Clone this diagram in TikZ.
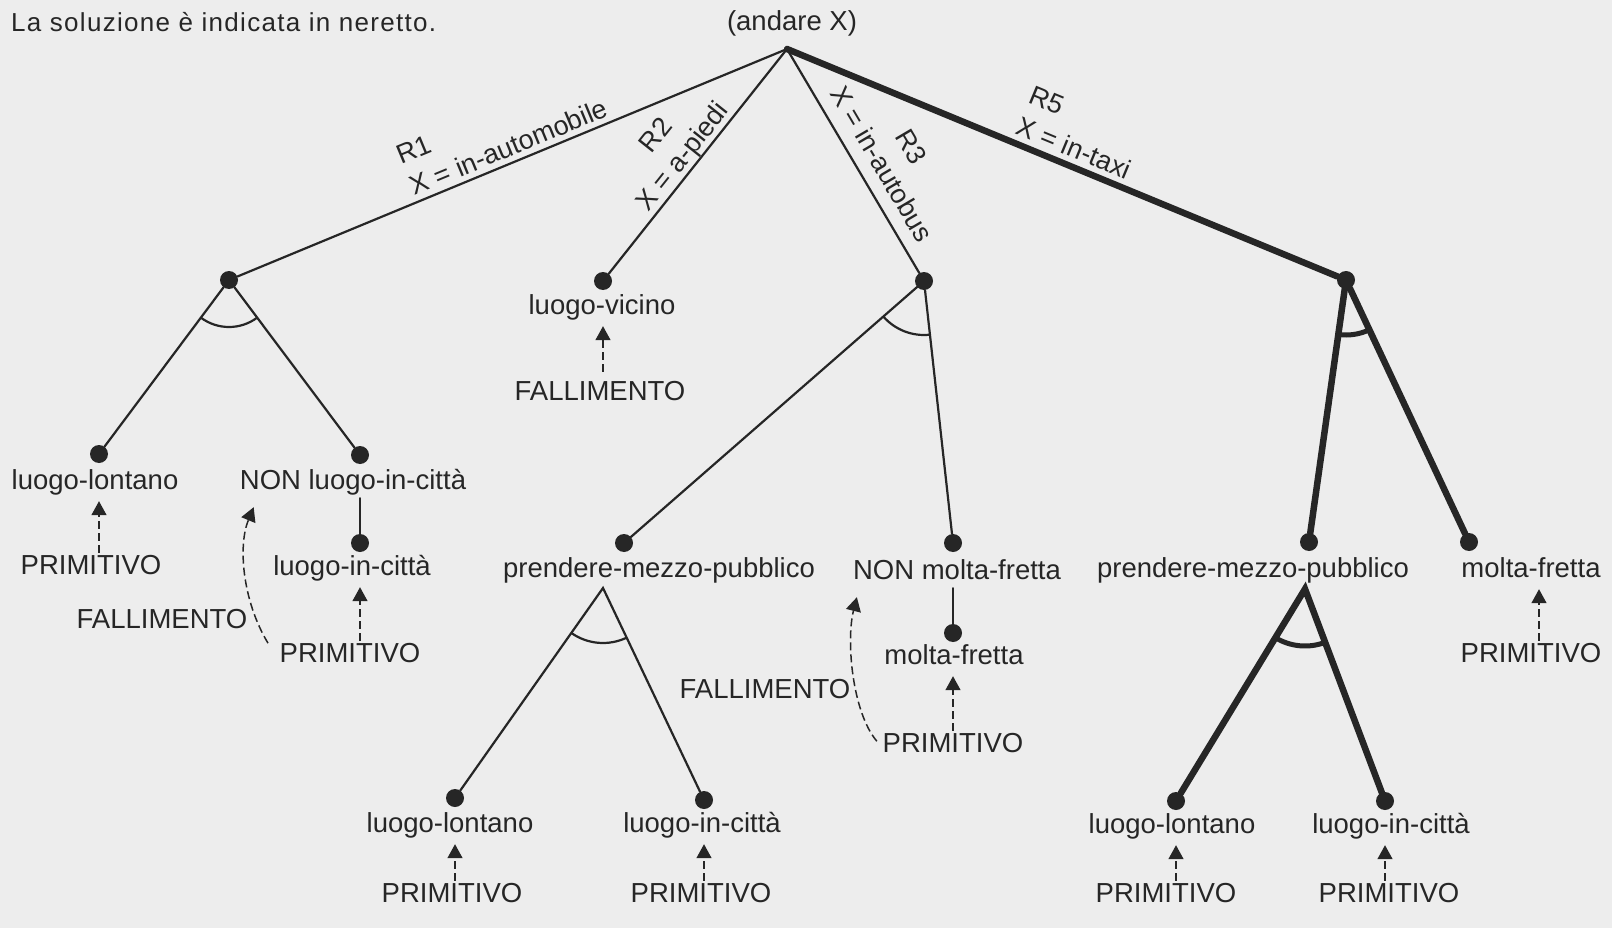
\documentclass[tikz,border=0pt]{standalone}
\usepackage{fontspec}
\setmainfont{Liberation Sans}
\usetikzlibrary{arrows.meta,calc}
\definecolor{paper}{RGB}{237,237,237}
\definecolor{ink}{RGB}{38,38,38}
\begin{document}
\begin{tikzpicture}[x=1pt,y=-1pt,
  lbl/.style={font=\fontsize{27.5}{33}\selectfont, text=ink, inner sep=0pt, text height=20pt, text depth=6pt},
  elbl/.style={font=\fontsize{27}{34}\selectfont, text=ink, inner sep=0pt},
  dot/.style={circle, fill=ink, minimum size=18pt, inner sep=0pt},
  thinln/.style={draw=ink, line width=2.2pt, line cap=round},
  boldln/.style={draw=ink, line width=6.5pt, line cap=round},
  andthin/.style={draw=ink, line width=2.2pt},
  andbold/.style={draw=ink, line width=5pt},
  tipA/.tip={Triangle[length=14pt,width=15pt]},
  darrow/.style={draw=ink, line width=1.5pt, dash pattern=on 8pt off 4pt, -tipA, shorten >=6pt, shorten <=1pt},
]
\fill[paper] (0,0) rectangle (1612,928);
\useasboundingbox (0,0) rectangle (1612,928);

\node[font=\fontsize{26}{30}\selectfont\addfontfeature{LetterSpace=5}, text=ink, anchor=west, inner sep=0pt] (title) at (11,22) {La soluzione è indicata in neretto.};

% root
\node[lbl] (rootl) at (792,24) {(andare X)};
\coordinate (root) at (787,49);
\node[dot] (A) at (229,280) {};
\node[dot] (B) at (603,281) {};
\node[dot] (C) at (924,281) {};
\node[dot] (D) at (1346,280) {};
\draw[thinln] (root) -- (A);
\draw[thinln] (root) -- (B);
\draw[thinln] (root) -- (C);
\draw[boldln] (root) -- (D);

% edge labels
\node[elbl, rotate=22.45, align=left] (r1) at (502.4,131.5) {R1\\X = in-automobile};
\node[elbl, rotate=51.5, align=center] (r2) at (670.8,147.1) {R2\\X = a-piedi};
\node[elbl, rotate=-59.5, align=center] (r3) at (896.5,155.5) {R3\\X = in-autobus};
\node[elbl, rotate=-22.5, align=left] (r5) at (1080.5,132.5) {R5\\X = in-taxi};

% R1 subtree
\node[dot] (A1) at (99,454) {};
\node[dot] (A2) at (360,455) {};
\draw[thinln] (A) -- (A1);
\draw[thinln] (A) -- (A2);
\draw[andthin] (A) ++(53.2:47) arc[start angle=53.2, end angle=126.8, radius=47];
\node[lbl] (A1l) at (95,482) {luogo-lontano};
\node[lbl] (A1p) at (91,567) {PRIMITIVO};
\draw[darrow] (A1p.north -| A1) -- (A1l.south -| A1);
\node[lbl] (A2l) at (353,482) {NON luogo-in-città};
\node[dot] (A2b) at (360,543) {};
\draw[thinln, shorten <=3pt] (A2l.south -| A2b) -- (A2b);
\node[lbl] (A2bl) at (352,568) {luogo-in-città};
\node[lbl] (A2p) at (350,655) {PRIMITIVO};
\draw[darrow] (A2p.north -| A2b) -- (A2bl.south -| A2b);
\node[lbl] (F1) at (162,621) {FALLIMENTO};
\draw[darrow, shorten >=0pt] ($(A2p.west)+(-11,-11)$) .. controls (242,600) and (238,545) .. ($(A2l.south west)+(14,12)$);

% R2 subtree
\node[lbl] (Bl) at (602,307) {luogo-vicino};
\node[lbl] (Bf) at (600,393) {FALLIMENTO};
\draw[darrow, shorten <=8pt] (Bf.north -| B) -- (Bl.south -| B);

% R3 subtree
\node[dot] (C1) at (624,543) {};
\node[dot] (C2) at (953,543) {};
\draw[thinln] (C) -- (C1);
\draw[thinln] (C) -- (C2);
\draw[andthin] (C) ++(83.7:54) arc[start angle=83.7, end angle=138.9, radius=54];
\node[lbl] (C1l) at (659,570) {prendere-mezzo-pubblico};
\node[lbl] (C2l) at (957,572) {NON molta-fretta};
\coordinate (Cx) at (603,588);
\node[dot] (C1a) at (455,798) {};
\node[dot] (C1b) at (704,800) {};
\draw[thinln] (C1a) -- (Cx) -- (C1b);
\draw[andthin] (Cx) ++(64.5:55) arc[start angle=64.5, end angle=125.2, radius=55];
\node[lbl] (C1al) at (450,825) {luogo-lontano};
\node[lbl] (C1bl) at (702,825) {luogo-in-città};
\node[lbl] (C1ap) at (452,895) {PRIMITIVO};
\node[lbl] (C1bp) at (701,895) {PRIMITIVO};
\draw[darrow] (C1ap.north -| C1a) -- (C1al.south -| C1a);
\draw[darrow] (C1bp.north -| C1b) -- (C1bl.south -| C1b);
\node[dot] (C2b) at (953,633) {};
\draw[thinln, shorten <=3pt] (C2l.south -| C2b) -- (C2b);
\node[lbl] (C2bl) at (954,657) {molta-fretta};
\node[lbl] (C2p) at (953,745) {PRIMITIVO};
\draw[darrow] (C2p.north -| C2b) -- (C2bl.south -| C2b);
\node[lbl] (F2) at (765,691) {FALLIMENTO};
\draw[darrow, shorten >=0pt] ($(C2p.west)+(-5,-3)$) .. controls (852,712) and (846,640) .. ($(C2l.south west)+(4,12)$);

% R5 subtree (solution, bold)
\node[dot] (D1) at (1309,542) {};
\node[dot] (D2) at (1469,542) {};
\draw[boldln] (D) -- (D1);
\draw[boldln] (D) -- (D2);
\draw[andbold] (D) ++(64.9:55) arc[start angle=64.9, end angle=98.0, radius=55];
\node[lbl] (D1l) at (1253,570) {prendere-mezzo-pubblico};
\node[lbl] (D2l) at (1531,570) {molta-fretta};
\node[lbl] (D2p) at (1531,655) {PRIMITIVO};
\draw[darrow] ($(D2p.north)+(8,0)$) -- ($(D2l.south)+(8,0)$);
\coordinate (Dx) at (1305,589);
\node[dot] (D1a) at (1176,801) {};
\node[dot] (D1b) at (1385,801) {};
\draw[boldln, line join=miter] (D1a) -- (Dx) -- (D1b);
\draw[andbold] (Dx) ++(69.3:57) arc[start angle=69.3, end angle=121.3, radius=57];
\node[lbl] (D1al) at (1172,826) {luogo-lontano};
\node[lbl] (D1bl) at (1391,826) {luogo-in-città};
\node[lbl] (D1ap) at (1166,895) {PRIMITIVO};
\node[lbl] (D1bp) at (1389,895) {PRIMITIVO};
\draw[darrow] (D1ap.north -| D1a) -- (D1al.south -| D1a);
\draw[darrow] (D1bp.north -| D1b) -- (D1bl.south -| D1b);
\end{tikzpicture}
\end{document}
